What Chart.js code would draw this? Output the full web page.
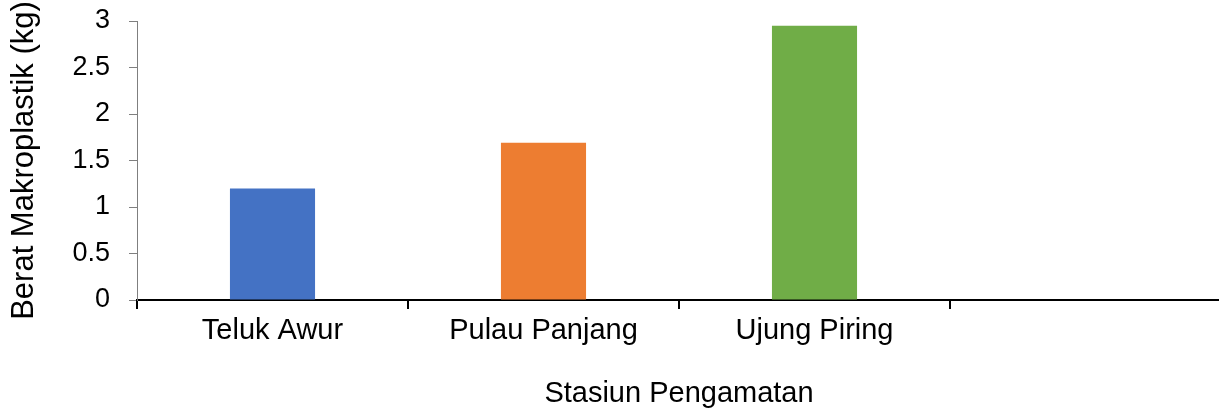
<!DOCTYPE html>
<html>
<head>
<meta charset="utf-8">
<script src="https://cdn.jsdelivr.net/npm/chart.js@4/dist/chart.umd.min.js"></script>
<style>
  html, body { margin: 0; padding: 0; background: #ffffff; overflow: hidden; }
  #wrap { width: 1219px; height: 411px; overflow: hidden; }
</style>
</head>
<body>
<div id="wrap"><canvas id="c" width="1221" height="411"></canvas></div>
<script>
const categories = ['Teluk Awur', 'Pulau Panjang', 'Ujung Piring', ''];
const values = [1.2, 1.69, 2.95, null];
const barColors = ['#4472C4', '#ED7D31', '#70AD47', '#A5A5A5'];
const yTickLabels = ['0', '0.5', '1', '1.5', '2', '2.5', '3'];
const yTitle = 'Berat Makroplastik (kg)';
const xTitle = 'Stasiun Pengamatan';

const FONT = "'Liberation Sans', Arial, sans-serif";

new Chart(document.getElementById('c'), {
  type: 'bar',
  data: {
    labels: categories,
    datasets: [{
      data: values,
      backgroundColor: barColors,
      borderWidth: 0,
      barPercentage: 0.314,
      categoryPercentage: 1.0
    }]
  },
  options: {
    responsive: false,
    animation: false,
    layout: { padding: { top: 21, left: 0, right: 0, bottom: 0 } },
    plugins: { legend: { display: false }, tooltip: { enabled: false } },
    scales: {
      x: {
        offset: true,
        grid: { display: true, drawOnChartArea: false, drawTicks: true, tickLength: 9, color: '#000000', lineWidth: 2, offset: true },
        border: { display: true, color: '#000000', width: 2 },
        ticks: { color: '#000000', font: { family: FONT, size: 29 }, padding: 5, maxRotation: 0, autoSkip: false },
        title: { display: true, text: xTitle, color: '#000000', font: { family: FONT, size: 29 }, padding: { top: 0, bottom: 0 } },
        afterFit: function(s) { s.height = 111; s.paddingLeft = 0; s.paddingRight = 0; }
      },
      y: {
        min: 0, max: 3,
        grid: { display: true, drawOnChartArea: false, drawTicks: true, tickLength: 8, color: '#7f7f7f', lineWidth: 1 },
        border: { display: true, color: '#7f7f7f', width: 1 },
        ticks: {
          stepSize: 0.5, color: '#000000', font: { family: FONT, size: 27 }, padding: 19,
          callback: function(value, index) { return yTickLabels[index]; }
        },
        title: { display: true, text: yTitle, color: '#000000', font: { family: FONT, size: 31 }, padding: { top: 6, bottom: 0 } },
        afterFit: function(s) { s.width = 137; s.paddingTop = 0; s.paddingBottom = 0; }
      }
    }
  }
});
</script>
</body>
</html>
